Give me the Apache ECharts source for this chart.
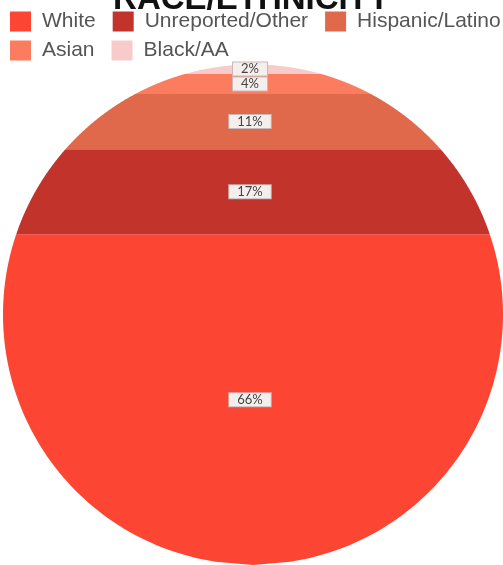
<!DOCTYPE html>
<html><head><meta charset="utf-8">
<script src="https://cdn.jsdelivr.net/npm/echarts@6/dist/echarts.min.js"></script>
<style>html,body{margin:0;padding:0;background:#fff}#c{width:503px;height:565px}</style>
</head><body><div id="c"></div>
<script>
var categories = ['White', 'Unreported/Other', 'Hispanic/Latino', 'Asian', 'Black/AA'];
var values = [66, 17, 11, 4, 2];
var colors = ['#fc4533', '#c1332b', '#e0694b', '#fb7c5e', '#f8caca'];
var titleText = 'RACE/ETHNICITY';

// stack from top: Black/AA at top, White at bottom
var order = [4, 3, 2, 1, 0];
var starts = {};
var acc = 0;
order.forEach(function (i) { starts[i] = [acc, acc + values[i]]; acc += values[i]; });

function renderBand(params, api) {
  var v1 = api.value(0), v2 = api.value(1);
  var c = api.coord([50, 50]);
  var r = api.size([100, 100])[0] / 2;
  var y1 = api.coord([50, v1])[1], y2 = api.coord([50, v2])[1];
  var pts = [], N = 100, k, y, dx;
  for (k = 0; k <= N; k++) {
    y = y1 + (y2 - y1) * k / N;
    dx = Math.sqrt(Math.max(0, r * r - (y - c[1]) * (y - c[1])));
    pts.push([c[0] - dx, y]);
  }
  for (k = N; k >= 0; k--) {
    y = y1 + (y2 - y1) * k / N;
    dx = Math.sqrt(Math.max(0, r * r - (y - c[1]) * (y - c[1])));
    pts.push([c[0] + dx, y]);
  }
  var ym = api.coord([50, (v1 + v2) / 2])[1];
  return {
    type: 'group',
    children: [
      { type: 'polygon', shape: { points: pts }, style: { fill: api.visual('color'), stroke: null } },
      { type: 'text', x: c[0] - 3, y: ym, z2: 100,
        style: { text: api.value(2) + '%', align: 'center', verticalAlign: 'middle',
          fill: '#444', font: '13px Lato, sans-serif',
          backgroundColor: '#f4efed', borderColor: '#c9b9b6', borderWidth: 1, padding: [0, 8, 0, 8] } }
    ]
  };
}

var series = categories.map(function (name, i) {
  return {
    type: 'custom', name: name, coordinateSystem: 'cartesian2d',
    itemStyle: { color: colors[i] },
    renderItem: renderBand,
    encode: { x: -1, y: [0, 1] },
    data: [[starts[i][0], starts[i][1], values[i]]],
    z: i === 4 ? 3 : 2
  };
});

var legendBase = {
  left: 10, padding: 0, width: 700, orient: 'horizontal',
  itemWidth: 21, itemHeight: 20, itemGap: 9,
  icon: 'rect',
  textStyle: { fontSize: 21, lineHeight: 20, color: '#555', fontFamily: 'Liberation Sans, Arial, sans-serif', padding: [7, 8, 0, 6] }
};

var chart = echarts.init(document.getElementById('c'));
chart.setOption({
  animation: false,
  title: { text: titleText, left: 'center', top: -22,
    textStyle: { fontSize: 33, fontWeight: 900, color: '#111', fontFamily: 'Liberation Sans, Arial, sans-serif' } },
  legend: [
    Object.assign({}, legendBase, { data: categories.slice(0, 3), top: 8 }),
    Object.assign({}, legendBase, { data: categories.slice(3), top: 37 })
  ],
  grid: { left: 3, width: 506, top: 64, height: 506 },
  xAxis: { type: 'value', min: 0, max: 100, show: false },
  yAxis: { type: 'value', min: 0, max: 100, inverse: true, show: false },
  series: series
});
</script></body></html>
